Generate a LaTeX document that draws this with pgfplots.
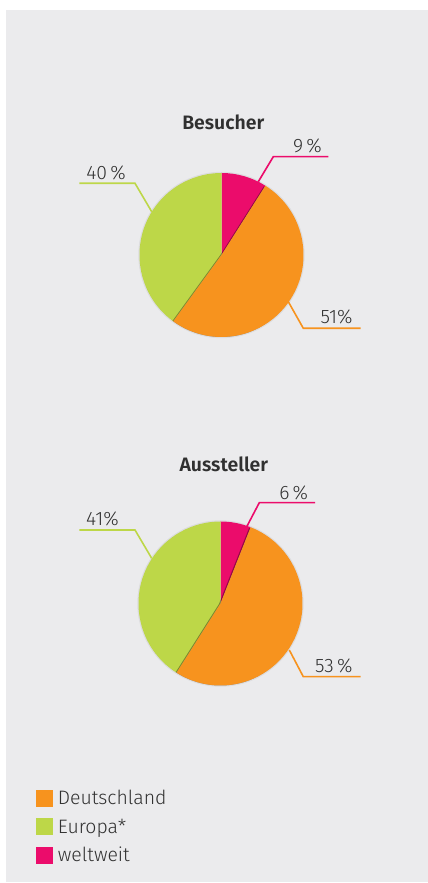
\documentclass[border=0pt]{standalone}
\usepackage{pgfplots}
\pgfplotsset{compat=1.18}
\usepackage{fontspec}
\setmainfont{Fira Sans Light}[BoldFont={Fira Sans SemiBold}]
\definecolor{bg}{HTML}{EBEBED}
\definecolor{cDE}{HTML}{F7931E}
\definecolor{cEU}{HTML}{BDD748}
\definecolor{cWW}{HTML}{EB0C6B}
\definecolor{txt}{HTML}{303030}
\newcommand\lab{\fontsize{19.5}{23}\selectfont\color{txt}}
\newcommand\pieslice[5]{%
  \fill[#5] (axis cs:#1,#2) -- ([shift={({#3}:82bp)}]axis cs:#1,#2)
     arc[start angle={#3}, delta angle={#4}, radius=82bp] -- cycle;}
% cx cy weltweit Deutschland Europa
\newcommand\piechart[5]{%
  \pieslice{#1}{#2}{90}{-3.6*#3}{cWW}
  \pieslice{#1}{#2}{90-3.6*(#3+#4)}{-3.6*#5}{cEU}
  \begin{scope}
    \clip (axis cs:#1,#2) circle[radius=82bp];
    \fill[black,opacity=0.35] ([shift={(-1.6bp,-0.6bp)}]axis cs:#1,#2) -- ([shift={({90-3.6*#3}:82bp)},shift={(-1.6bp,-0.6bp)}]axis cs:#1,#2)
      arc[start angle={90-3.6*#3}, delta angle={-3.6*#4}, radius=82bp] -- cycle;
  \end{scope}
  \pieslice{#1}{#2}{90-3.6*#3}{-3.6*#4}{cDE}
  \draw[black,opacity=0.06,line width=1.2bp] (axis cs:#1,#2) circle[radius=82.6bp];
}
\begin{document}
\begin{tikzpicture}
\begin{axis}[
  width=428bp, height=883bp, scale only axis,
  xmin=0, xmax=428, ymin=0, ymax=883, enlargelimits=false,
  hide axis, clip=false,
  legend style={at={(axis cs:36,93)}, anchor=north west, draw=none, fill=none,
    font=\lab, row sep=12bp, inner sep=0pt, outer sep=0pt,
    nodes={inner sep=0pt, outer xsep=0pt}},
  legend cell align=left,
]
\path (axis cs:0,0) rectangle (axis cs:428,883);
\addplot[forget plot, fill=bg, draw=none] coordinates {(6,1) (427.5,1) (427.5,873) (6,873)} -- cycle;

% pies: centre x, centre y, weltweit, Deutschland, Europa
\piechart{221.5}{628}{9}{51}{40}
\piechart{220.5}{279.5}{6}{53}{41}

% leader lines
\addplot[forget plot, cWW, line width=1.6bp, mark=none] coordinates {(258.3,701.3) (273.3,726.3) (328.3,726.3)};
\addplot[forget plot, cEU, line width=1.6bp, mark=none] coordinates {(151.7,671.3) (135,699.7) (79.3,699.7)};
\addplot[forget plot, cDE, line width=1.6bp, mark=none] coordinates {(288.3,581.3) (303.3,554.7) (360.7,554.7)};
\addplot[forget plot, cWW, line width=1.6bp, mark=none] coordinates {(245,353) (259.3,380.3) (315,380.3)};
\addplot[forget plot, cEU, line width=1.6bp, mark=none] coordinates {(151.7,324.7) (135,353) (79.3,353)};
\addplot[forget plot, cDE, line width=1.6bp, mark=none] coordinates {(289.3,233) (303.3,206.3) (360.7,206.3)};

\node[anchor=base east, font=\lab, inner sep=0pt] at (axis cs:322,730.7) {9\,\%};
\node[anchor=base east, font=\lab, inner sep=0pt] at (axis cs:126,703) {40\,\%};
\node[anchor=base east, font=\lab, inner sep=0pt] at (axis cs:352.7,559) {51\%};
\node[anchor=base east, font=\lab, inner sep=0pt] at (axis cs:308.3,383.7) {6\,\%};
\node[anchor=base east, font=\lab, inner sep=0pt] at (axis cs:119,357.3) {41\%};
\node[anchor=base east, font=\lab, inner sep=0pt] at (axis cs:352.7,210.3) {53\,\%};

\node[anchor=base, font=\lab\bfseries, inner sep=0pt] at (axis cs:223.3,753) {Besucher};
\node[anchor=base, font=\lab\bfseries, inner sep=0pt] at (axis cs:223.8,411.3) {Aussteller};

\addlegendimage{legend image code/.code={\fill[cDE] (0bp,-8bp) rectangle (16bp,8bp); \fill[opacity=0] (16bp,-1bp) rectangle (21.5bp,1bp);}}
\addlegendentry{Deutschland}
\addlegendimage{legend image code/.code={\fill[cEU] (0bp,-8bp) rectangle (16bp,8bp); \fill[opacity=0] (16bp,-1bp) rectangle (21.5bp,1bp);}}
\addlegendentry{Europa*}
\addlegendimage{legend image code/.code={\fill[cWW] (0bp,-8bp) rectangle (16bp,8bp); \fill[opacity=0] (16bp,-1bp) rectangle (21.5bp,1bp);}}
\addlegendentry{weltweit}
\end{axis}
\end{tikzpicture}
\end{document}
